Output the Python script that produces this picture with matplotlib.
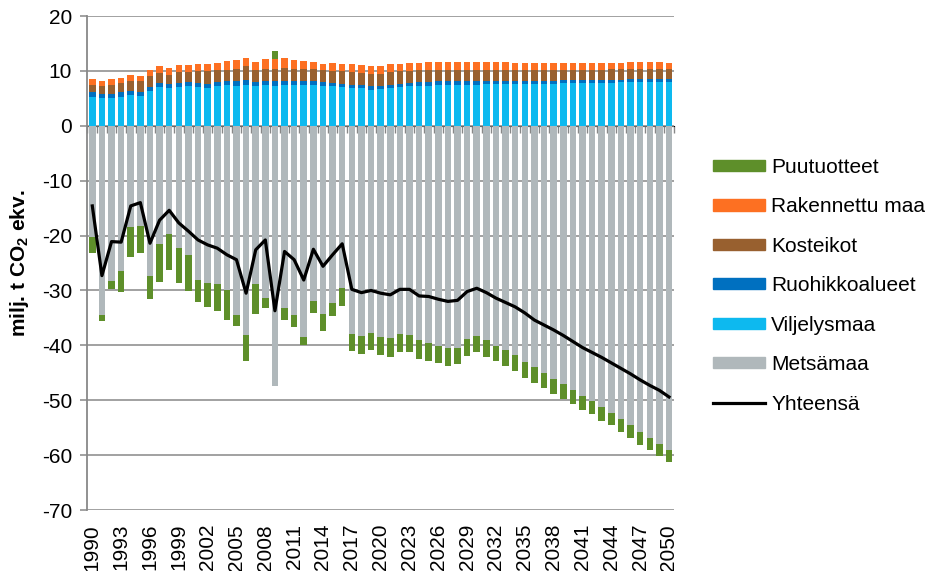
import numpy as np
import matplotlib
matplotlib.use("Agg")
import matplotlib.pyplot as plt
from matplotlib.patches import Patch
from matplotlib.lines import Line2D

plt.rcParams['font.family'] = ['Liberation Sans', 'DejaVu Sans']
plt.rcParams['mathtext.fontset'] = 'custom'
plt.rcParams['mathtext.rm'] = 'Liberation Sans'
plt.rcParams['mathtext.bf'] = 'Liberation Sans:bold'
plt.rcParams['axes.unicode_minus'] = False

years = list(range(1990, 2051))

viljelysmaa = [5.3, 5.0, 5.0, 5.3, 5.6, 5.5, 6.4, 7.0, 6.9, 7.0,
               7.2, 7.0, 6.9, 7.3, 7.5, 7.3, 7.5, 7.2, 7.5, 7.3,
               7.5, 7.5, 7.5, 7.5, 7.3, 7.2, 7.0, 6.9, 6.8, 6.6,
               6.7, 6.8, 7.0, 7.2, 7.3, 7.3, 7.4, 7.5, 7.5, 7.5,
               7.5, 7.6, 7.6, 7.6, 7.6, 7.7, 7.7, 7.7, 7.7, 7.8,
               7.8, 7.8, 7.8, 7.8, 7.8, 7.9, 7.9, 7.9, 7.9, 7.9, 7.9]
ruohikkoalueet = [0.8, 0.8, 0.7, 0.8, 0.7, 0.7, 0.7, 0.8, 0.7, 0.8,
                  0.7, 0.8, 0.8, 0.6, 0.7, 0.9, 0.8, 0.8, 0.7, 0.8,
                  0.7, 0.6, 0.7, 0.6, 0.7, 0.6, 0.6, 0.6, 0.7, 0.7,
                  0.6, 0.7, 0.6, 0.6, 0.6, 0.7, 0.7, 0.6, 0.6, 0.6,
                  0.6, 0.5, 0.5, 0.5, 0.5, 0.5, 0.5, 0.5, 0.5, 0.5,
                  0.5, 0.5, 0.5, 0.5, 0.6, 0.5, 0.6, 0.6, 0.6, 0.6, 0.6]
kosteikot = [1.4, 1.5, 1.8, 1.7, 1.9, 1.9, 1.9, 1.9, 1.7, 2.0,
             1.9, 2.1, 2.2, 2.2, 2.0, 2.1, 2.5, 2.1, 2.2, 2.3,
             2.4, 2.3, 2.2, 2.2, 2.2, 2.1, 2.3, 2.3, 2.1, 2.2,
             2.2, 2.3, 2.3, 2.2, 2.2, 2.1, 2.1, 2.1, 2.1, 2.1,
             2.1, 2.1, 2.1, 2.1, 2.0, 2.0, 2.0, 2.0, 2.0, 1.9,
             1.9, 1.9, 1.9, 1.9, 1.9, 1.9, 1.9, 1.8, 1.9, 1.8, 1.8]
rakennettu_maa = [1.0, 0.9, 1.0, 0.9, 1.0, 0.9, 1.1, 1.2, 1.3, 1.3,
                  1.3, 1.4, 1.4, 1.4, 1.6, 1.7, 1.5, 1.6, 1.8, 1.7,
                  1.7, 1.6, 1.4, 1.3, 1.1, 1.6, 1.4, 1.4, 1.4, 1.4,
                  1.4, 1.4, 1.4, 1.4, 1.4, 1.5, 1.5, 1.5, 1.4, 1.4,
                  1.4, 1.4, 1.4, 1.4, 1.4, 1.3, 1.3, 1.3, 1.3, 1.3,
                  1.3, 1.3, 1.2, 1.3, 1.2, 1.2, 1.2, 1.3, 1.2, 1.3, 1.2]
metsamaa = [-20.3, -34.4, -28.2, -26.4, -18.5, -18.3, -27.4, -21.5, -19.7, -22.2,
            -23.6, -28.1, -28.7, -28.8, -30.0, -34.4, -38.2, -28.8, -31.4, -47.4,
            -33.2, -34.4, -38.4, -32.0, -34.3, -32.2, -29.5, -37.9, -38.3, -37.7,
            -38.5, -38.7, -37.9, -38.1, -39.1, -39.5, -40.1, -40.4, -40.4, -38.9,
            -38.3, -39.1, -40.1, -40.9, -41.8, -43.0, -44.0, -45.1, -46.1, -47.1,
            -48.2, -49.2, -50.2, -51.2, -52.3, -53.4, -54.5, -55.7, -56.8, -57.9, -59.1]
puutuotteet = [-2.9, -1.2, -1.5, -3.8, -5.4, -4.9, -4.1, -6.9, -6.5, -6.5,
               -6.5, -4.0, -4.4, -5.0, -5.3, -2.0, -4.6, -5.5, -1.8, 1.6,
               -2.1, -2.2, -1.5, -2.1, -3.0, -2.5, -3.4, -3.1, -3.2, -3.2,
               -3.3, -3.4, -3.3, -3.2, -3.4, -3.3, -3.2, -3.3, -3.0, -3.1,
               -3.0, -3.0, -2.8, -2.9, -2.9, -2.9, -2.8, -2.6, -2.7, -2.6,
               -2.5, -2.5, -2.4, -2.5, -2.3, -2.4, -2.4, -2.4, -2.3, -2.3, -2.2]
yhteensa = [-14.6, -27.3, -21.1, -21.2, -14.6, -14.0, -21.4, -17.2, -15.4, -17.7,
            -19.2, -20.8, -21.7, -22.3, -23.5, -24.4, -30.5, -22.6, -20.8, -33.7,
            -22.9, -24.4, -28.1, -22.5, -25.6, -23.5, -21.5, -29.8, -30.4, -30.0,
            -30.5, -30.8, -29.8, -29.8, -31.0, -31.1, -31.6, -32.0, -31.8, -30.2,
            -29.6, -30.4, -31.4, -32.2, -33.0, -34.1, -35.4, -36.3, -37.2, -38.2,
            -39.3, -40.4, -41.3, -42.2, -43.2, -44.2, -45.2, -46.3, -47.3, -48.2, -49.4]

c_puu = '#5e8f2a'
c_rak = '#fd7022'
c_kos = '#98602f'
c_ruo = '#0070c0'
c_vil = '#0db9ef'
c_met = '#b0b8bb'
grid_c = '#888888'

x = np.arange(len(years))
vil = np.array(viljelysmaa)
ruo = np.array(ruohikkoalueet)
kos = np.array(kosteikot)
rak = np.array(rakennettu_maa)
met = np.array(metsamaa)
puu = np.array(puutuotteet)
w = 0.68

fig = plt.figure(figsize=(9.29, 5.71), dpi=100)
ax = fig.add_axes([87.5/929, 1 - 510/571, (673.8 - 87.5)/929, (510 - 16)/571])

ax.set_ylim(-70, 20)
ax.set_xlim(-0.5, len(years) - 0.5)
ax.set_yticks(range(-70, 21, 10))
ax.yaxis.grid(True, color=grid_c, lw=1.1)
ax.set_axisbelow(True)

ax.bar(x, met, w, color=c_met)
ax.bar(x, vil, w, color=c_vil)
ax.bar(x, ruo, w, bottom=vil, color=c_ruo)
ax.bar(x, kos, w, bottom=vil + ruo, color=c_kos)
ax.bar(x, rak, w, bottom=vil + ruo + kos, color=c_rak)
top = vil + ruo + kos + rak
ax.bar(x, puu, w, bottom=np.where(puu < 0, met, top), color=c_puu)
ax.plot(x, yhteensa, color='black', lw=2.3, zorder=5)

for s in ['top', 'right', 'bottom']:
    ax.spines[s].set_visible(False)
ax.spines['left'].set_color(grid_c)
ax.spines['left'].set_linewidth(1.3)
ax.tick_params(axis='y', direction='out', length=5, width=1.1, color=grid_c,
               labelsize=15, pad=6)
ax.set_xticks(x[::3])
ax.set_xticklabels([str(y) for y in years[::3]], rotation=90, fontsize=15)
ax.tick_params(axis='x', length=0, pad=10)

# category axis crossing at zero
sec = ax.secondary_xaxis(70 / 90)
sec.set_xticks(np.arange(len(years) + 1) - 0.5)
sec.tick_params(axis='x', direction='out', length=5, width=1.0, color=grid_c,
                labelbottom=False, labeltop=False, top=False, bottom=True)
sec.spines['bottom'].set_color(grid_c)
sec.spines['bottom'].set_linewidth(1.1)

ax.set_ylabel(r'milj. t CO$_\mathbf{2}$ ekv.', fontsize=15, fontweight='bold',
              labelpad=8)

handles = [Patch(color=c_puu), Patch(color=c_rak), Patch(color=c_kos),
           Patch(color=c_ruo), Patch(color=c_vil), Patch(color=c_met),
           Line2D([], [], color='black', lw=2.3)]
labels = ['Puutuotteet', 'Rakennettu maa', 'Kosteikot', 'Ruohikkoalueet',
          'Viljelysmaa', 'Metsämaa', 'Yhteensä']
fig.legend(handles, labels, loc='upper left', bbox_to_anchor=(713/929, 1 - 158/571),
           frameon=False, fontsize=15, handlelength=2.5, handleheight=0.45,
           handletextpad=0.3, labelspacing=0.98, borderpad=0, borderaxespad=0)

fig.savefig('out.png', dpi=100)
